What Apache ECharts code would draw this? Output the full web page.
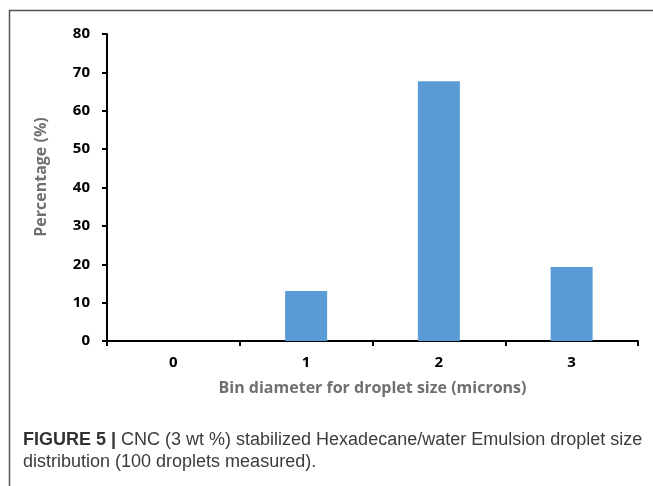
<!DOCTYPE html>
<html><head><meta charset="utf-8">
<script src="https://cdn.jsdelivr.net/npm/echarts@6/dist/echarts.min.js"></script>
<style>html,body{margin:0;padding:0;background:#fff}#c{width:653px;height:486px}</style>
</head><body><div id="c"></div>
<script>
var categories = ['0', '1', '2', '3'];
var percentages = [0, 13, 67.7, 19.3];
var yTicks = [0, 10, 20, 30, 40, 50, 60, 70, 80];
var xTitle = 'Bin diameter for droplet size (microns)';
var yTitle = 'Percentage (%)';
var captionBold = 'FIGURE 5 | ';
var captionLine1 = 'CNC (3 wt %) stabilized Hexadecane/water Emulsion droplet size';
var captionLine2 = 'distribution (100 droplets measured).';

var chart = echarts.init(document.getElementById('c'));
var fontFam = 'Open Sans, Lato, sans-serif';
var titleGray = '#707070';
chart.setOption({
  animation: false,
  grid: { left: 107, right: 15, top: 34, bottom: 145 },
  xAxis: {
    type: 'category', data: categories,
    axisLine: { lineStyle: { color: '#000', width: 2 } },
    axisTick: { show: true, length: 5, lineStyle: { color: '#000', width: 2 } },
    axisLabel: { color: '#000', fontWeight: 'bold', fontSize: 15, fontFamily: fontFam, margin: 14 },
    name: xTitle, nameLocation: 'middle', nameGap: 47,
    nameTextStyle: { color: titleGray, fontWeight: 'bold', fontSize: 16, fontFamily: fontFam, verticalAlign: 'middle' }
  },
  yAxis: {
    type: 'value', min: yTicks[0], max: yTicks[yTicks.length - 1], interval: 10,
    splitLine: { show: false },
    axisLine: { show: true, lineStyle: { color: '#000', width: 2 } },
    axisTick: { show: true, length: 5, lineStyle: { color: '#000', width: 2 } },
    axisLabel: { color: '#000', fontWeight: 'bold', fontSize: 15, fontFamily: fontFam, margin: 17 }
  },
  series: [{
    type: 'bar', data: percentages, barWidth: 42,
    itemStyle: { color: '#5b9bd5' }
  }],
  graphic: [
    { type: 'line', shape: { x1: 9, y1: 10.5, x2: 653, y2: 10.5 }, style: { stroke: '#555', lineWidth: 1.5 } },
    { type: 'line', shape: { x1: 9.5, y1: 10, x2: 9.5, y2: 486 }, style: { stroke: '#555', lineWidth: 1.5 } },
    { type: 'text', x: 41, y: 177, rotation: Math.PI / 2, style: {
        text: yTitle, align: 'center', verticalAlign: 'middle',
        fill: titleGray, font: 'bold 16px ' + fontFam
    } },
    { type: 'text', left: 23, top: 431, style: {
        text: '{b|' + captionBold + '}{n|' + captionLine1 + '}\n{n|' + captionLine2 + '}',
        rich: {
          b: { fontWeight: 'bold', fontSize: 18, fontFamily: 'Liberation Sans, Arial, sans-serif', fill: '#333', lineHeight: 22 },
          n: { fontSize: 18, fontFamily: 'Liberation Sans, Arial, sans-serif', fill: '#3c3c3c', lineHeight: 22 }
        }
    } }
  ]
});
</script></body></html>
